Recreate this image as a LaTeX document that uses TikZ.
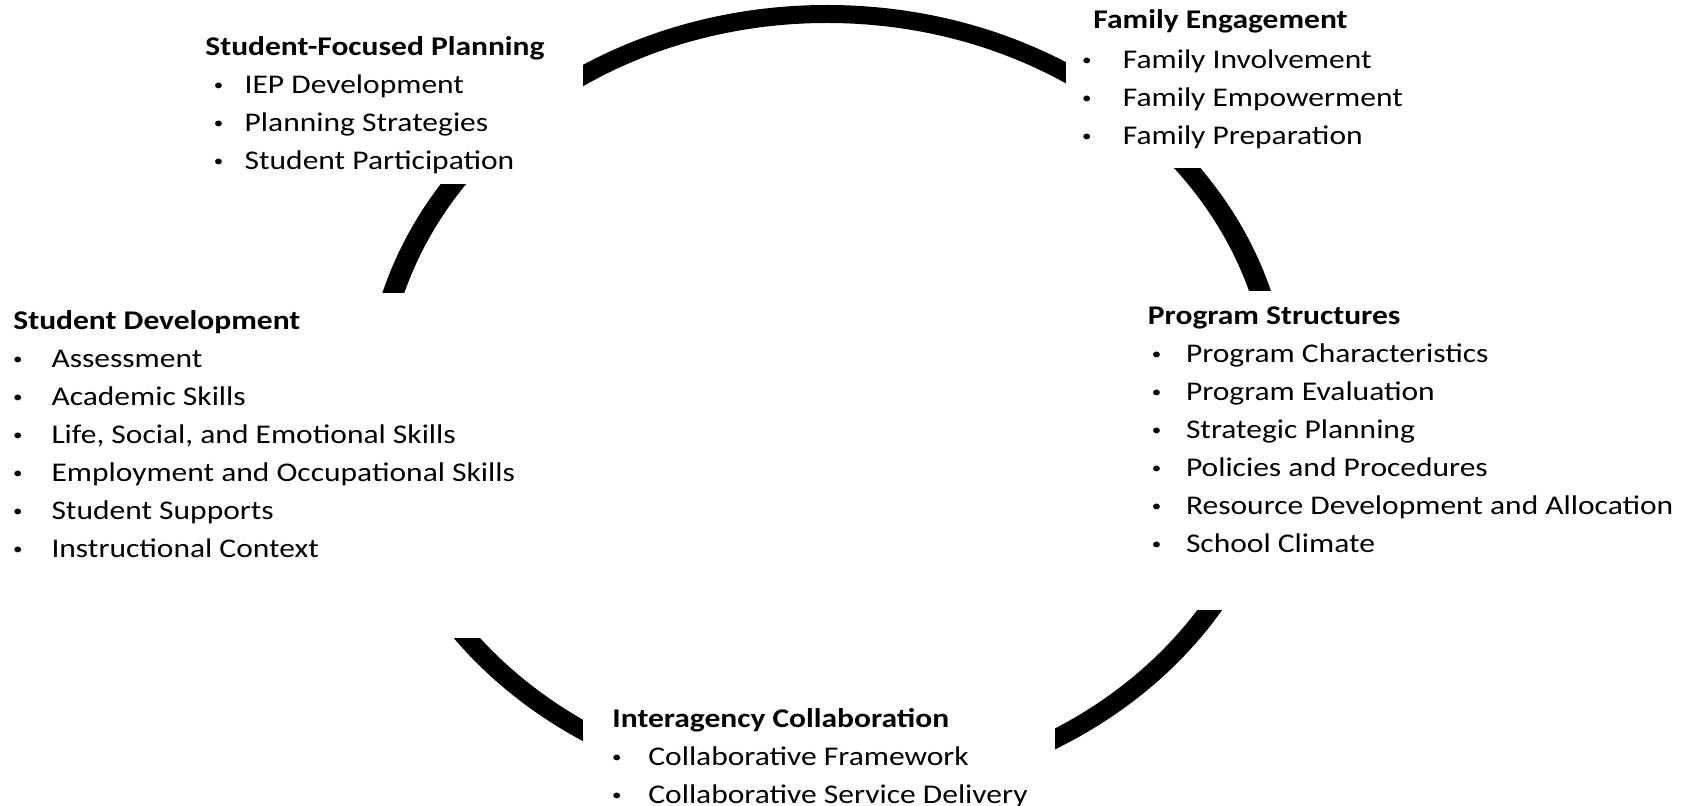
\documentclass[tikz,border=0pt]{standalone}
\usepackage{fontspec}
\setmainfont{Carlito}
\usepackage{array}
\usepackage{tikz}

% small centred bullet, #1 is where its centre sits
\newcommand{\bul}[1]{\hspace*{#1}\makebox[0pt]{\raisebox{1.6pt}{\scalebox{0.6}{\textbullet}}}}

\begin{document}
\begin{tikzpicture}[
    x=0.5pt, y=-0.5pt,
    font=\fontsize{13.5}{19}\selectfont,
    block/.style={
		anchor=north west,
		inner sep=0pt,
		xscale=1.167
	},
	gap/.style={
		fill=white
	}
  ]
  \useasboundingbox (0,0) rectangle (1696,806);

    % the ring, then the gaps cut by the blocks
  \fill [even odd rule] (827,403) ellipse [x radius=462.5, y radius=398]
                        (827,403) ellipse [x radius=441.5, y radius=380];

  \fill [gap] (150,0) rectangle (583,184);
  \fill [gap] (1066,0) rectangle (1500,168);
  \fill [gap] (1140,291) rectangle (1696,610);
  \fill [gap] (0,293) rectangle (560,638);
  \fill [gap] (583,700) rectangle (1055,806);

    % We start by placing the blocks
  \node [block] (planning) at (205,28.4)
 {%
 \begin{tabular}{@{}>{\bul{5.6pt}}p{16.8pt}@{}l@{}}
  \multicolumn{2}{@{}l@{}}{\textbf{Student-Focused Planning}}\\
  & IEP Development\\
  & Planning Strategies\\
  & Student Participation
 \end{tabular}
 };

  \node [block] (family) at (1093,1.4)
 {%
 \begin{tabular}{@{}>{\bul{-2.8pt}}p{12.6pt}@{}l@{}}
  \multicolumn{2}{@{}l@{}}{\textbf{Family Engagement}}\\[1pt]
  & Family Involvement\\
  & Family Empowerment\\
  & Family Preparation
 \end{tabular}
 };

  \node [block] (development) at (13,302.4)
 {%
 \begin{tabular}{@{}>{\bul{1.9pt}}p{16.3pt}@{}l@{}}
  \multicolumn{2}{@{}l@{}}{\textbf{Student Development}}\\
  & Assessment\\
  & Academic Skills\\
  & Life, Social, and Emotional Skills\\
  & Employment and Occupational Skills\\
  & Student Supports\\
  & Instructional Context
 \end{tabular}
 };

  \node [block] (program) at (1147.5,297.8)
 {%
 \begin{tabular}{@{}>{\bul{3.7pt}}p{16.3pt}@{}l@{}}
  \multicolumn{2}{@{}l@{}}{\textbf{Program Structures}}\\
  & Program Characteristics\\
  & Program Evaluation\\
  & Strategic Planning\\
  & Policies and Procedures\\
  & Resource Development and Allocation\\
  & School Climate
 \end{tabular}
 };

  \node [block] (interagency) at (612,700.4)
 {%
 \begin{tabular}{@{}>{\bul{1.9pt}}p{15.4pt}@{}l@{}}
  \multicolumn{2}{@{}l@{}}{\textbf{Interagency Collaboration}}\\
  & Collaborative Framework\\
  & Collaborative Service Delivery
 \end{tabular}
 };

\end{tikzpicture}
\end{document}
